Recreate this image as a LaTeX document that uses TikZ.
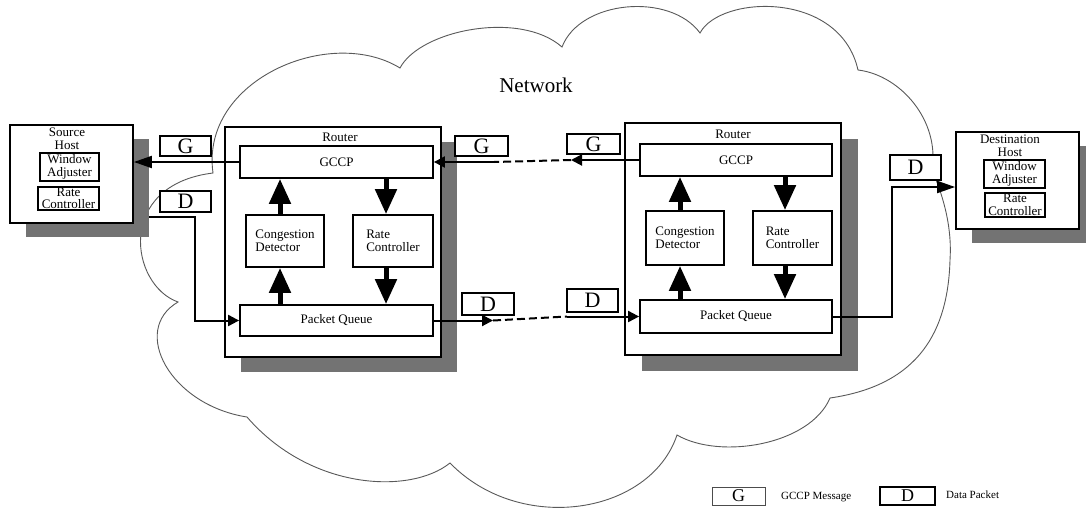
\documentclass[tikz,border=0pt]{standalone}
\usepackage{fontspec}
\setmainfont{Liberation Serif}
\usetikzlibrary{arrows.meta}
\begin{document}
\begin{tikzpicture}[x=1pt,y=-1pt,
  box/.style={draw, line width=1.8pt, fill=white, inner sep=0pt},
  sbox/.style={fill=black!55, inner sep=0pt},
  ibox/.style={box, font=\fontsize{13}{12.5}\selectfont, align=center},
  pkt/.style={draw, line width=1.8pt, fill=white, inner sep=0pt, font=\fontsize{22}{22}\selectfont},
  lbl/.style={inner sep=0pt, font=\fontsize{13}{12.5}\selectfont, align=center},
  conn/.style={line width=2pt},
  tip/.style={-{Triangle[length=11pt,width=11pt]}},
  bigtip/.style={-{Triangle[length=18pt,width=12pt]}},
  dashline/.style={line width=2pt, dash pattern=on 8pt off 4pt},
  big/.style={line width=5pt, -{Triangle[length=25pt,width=21pt]}},
  cloudline/.style={draw=black!65, line width=0.9pt},
]
\useasboundingbox (0,0) rectangle (1086,512);

% cloud
\draw[cloudline] (213,173)
 .. controls (200,80) and (330,25) .. (400,68)
 .. controls (420,30) and (520,10) .. (562,47)
 .. controls (580,0) and (670,-8) .. (700,33)
 .. controls (720,-5) and (840,-10) .. (858,70)
 .. controls (900,75) and (940,120) .. (932,170)
 .. controls (945,200) and (952,230) .. (950,260)
 .. controls (948,330) and (920,385) .. (830,398)
 .. controls (810,445) and (720,460) .. (677,435)
 .. controls (650,515) and (520,535) .. (450,463)
 .. controls (410,495) and (310,490) .. (247,417)
 .. controls (170,405) and (130,330) .. (178,302)
 .. controls (130,285) and (115,185) .. (213,173) -- cycle;

\node[font=\fontsize{21}{21}\selectfont] (net) at (536,85) {Network};

% source host
\node[sbox, minimum width=123pt, minimum height=98pt] (shS) at (87.5,188) {};
\node[box, minimum width=123pt, minimum height=98pt] (sh) at (71.5,174) {};
\node[lbl] (shT) at (67,139) {Source\\Host};
\node[ibox, minimum width=59pt, minimum height=28pt] (shW) at (69.5,167) {Window\\Adjuster};
\node[ibox, minimum width=61pt, minimum height=23pt] (shR) at (68.5,198.5) {Rate\\Controller};

% router 1
\node[sbox, minimum width=216pt, minimum height=230pt] (r1S) at (349,257) {};
\node[box, minimum width=216pt, minimum height=230pt] (r1) at (333,242) {};
\node[lbl] (r1T) at (340,137) {Router};
\node[ibox, minimum width=193pt, minimum height=32pt] (g1) at (336.5,162) {GCCP};
\node[ibox, minimum width=78pt, minimum height=52pt, align=left] (cd1) at (285,241) {Congestion\\Detector};
\node[ibox, minimum width=80pt, minimum height=52pt, align=left] (rc1) at (393,241) {Rate\\Controller};
\node[ibox, minimum width=193pt, minimum height=31pt] (pq1) at (336.5,320.5) {Packet Queue};

% router 2
\node[sbox, minimum width=216pt, minimum height=232pt] (r2S) at (750,255) {};
\node[box, minimum width=216pt, minimum height=232pt] (r2) at (733,239) {};
\node[lbl] (r2T) at (733,134) {Router};
\node[ibox, minimum width=192pt, minimum height=32pt] (g2) at (736,160) {GCCP};
\node[ibox, minimum width=78pt, minimum height=54pt, align=left] (cd2) at (685,238) {Congestion\\Detector};
\node[ibox, minimum width=79pt, minimum height=54pt, align=left] (rc2) at (792.5,238) {Rate\\Controller};
\node[ibox, minimum width=192pt, minimum height=33pt] (pq2) at (736,316.5) {Packet Queue};

% destination host
\node[sbox, minimum width=123pt, minimum height=97pt] (dhS) at (1033.5,194.5) {};
\node[box, minimum width=123pt, minimum height=97pt] (dh) at (1017.5,180.5) {};
\node[lbl] (dhT) at (1010,146) {Destination\\Host};
\node[ibox, minimum width=61pt, minimum height=28pt] (dhW) at (1014.5,174) {Window\\Adjuster};
\node[ibox, minimum width=60pt, minimum height=24pt] (dhR) at (1015,205) {Rate\\Controller};

% internal thick arrows
\coordinate (x1) at (280,0);
\coordinate (x2) at (386,0);
\coordinate (x3) at (680,0);
\coordinate (x4) at (785,0);
\draw[big] (pq1.north -| x1) -- (cd1.south -| x1);
\draw[big] (cd1.north -| x1) -- (g1.south -| x1);
\draw[big] (g1.south -| x2) -- (rc1.north -| x2);
\draw[big] (rc1.south -| x2) -- (pq1.north -| x2);
\draw[big] (pq2.north -| x3) -- (cd2.south -| x3);
\draw[big] (cd2.north -| x3) -- (g2.south -| x3);
\draw[big] (g2.south -| x4) -- (rc2.north -| x4);
\draw[big] (rc2.south -| x4) -- (pq2.north -| x4);

% GCCP message path
\draw[conn, bigtip] (g1.west) -- (g1.west -| sh.east);
\coordinate (gA) at (571,0);
\coordinate (gB) at (494,0);
\draw[conn, tip] (g2.west) -- (g2.west -| gA);
\draw[dashline] (g2.west -| gA) -- (g1.east -| gB);
\draw[conn, tip] (g1.east -| gB) -- (g1.east);

% data path
\coordinate (sd) at (195,217);
\draw[conn, tip] (sd -| shS.east) -- (sd) |- (pq1.west);
\coordinate (dA) at (493,0);
\coordinate (dB) at (567,0);
\draw[conn, tip] (pq1.east) -- (pq1.east -| dA);
\draw[dashline] (pq1.east -| dA) -- (pq2.west -| dB);
\draw[conn, tip] (pq2.west -| dB) -- (pq2.west);
\coordinate (dT) at (892,187);
\draw[conn, bigtip] (pq2.east) -| (dT) -- (dT -| dh.west);

% packet labels
\node[pkt, minimum width=51pt, minimum height=20pt] (pG1) at (185.5,146) {G};
\node[pkt, minimum width=51pt, minimum height=21pt] (pD1) at (185.5,201.5) {D};
\node[pkt, minimum width=53pt, minimum height=20pt] (pG2) at (481.5,146) {G};
\node[pkt, minimum width=53pt, minimum height=20pt] (pG3) at (593.5,144) {G};
\node[pkt, minimum width=52pt, minimum height=22pt] (pD2) at (488,304) {D};
\node[pkt, minimum width=51pt, minimum height=23pt] (pD3) at (592.5,300.5) {D};
\node[pkt, minimum width=51pt, minimum height=25pt] (pD4) at (915.5,167.5) {D};

% legend
\node[pkt, draw=black!70, line width=1pt, minimum width=53pt, minimum height=18pt, font=\fontsize{18}{18}\selectfont] (lG) at (738.5,496) {G};
\node[anchor=west, inner sep=0pt, font=\fontsize{11}{11}\selectfont] (lGt) at (781,497) {GCCP Message};
\node[pkt, line width=1.3pt, minimum width=55pt, minimum height=18pt, font=\fontsize{18}{18}\selectfont] (lD) at (907.5,496) {D};
\node[anchor=west, inner sep=0pt, font=\fontsize{11}{11}\selectfont] (lDt) at (946,495) {Data Packet};
\end{tikzpicture}
\end{document}
